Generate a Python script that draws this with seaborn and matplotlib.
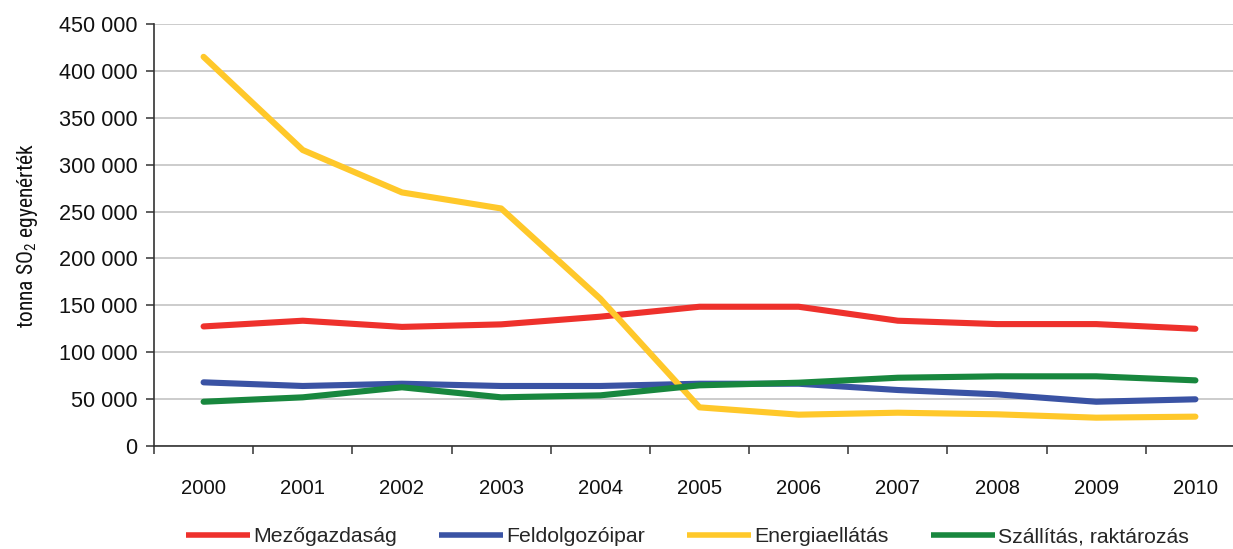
import matplotlib
matplotlib.use("Agg")
import matplotlib.pyplot as plt
import seaborn as sns
import pandas as pd
from matplotlib.ticker import FixedLocator, FuncFormatter
from matplotlib.lines import Line2D
from matplotlib import font_manager

years = [2000, 2001, 2002, 2003, 2004, 2005, 2006, 2007, 2008, 2009, 2010]
mezogazdasag = [127500, 133600, 127000, 129700, 137900, 148500, 148500, 133600, 130000, 130000, 125000]
feldolgozoipar = [67900, 64000, 66400, 64000, 64000, 66400, 66400, 59700, 55100, 47200, 49800]
energiaellatas = [415000, 315600, 270400, 253300, 157000, 41200, 33400, 35500, 33800, 30200, 31300]
szallitas = [47200, 51900, 62600, 51900, 54000, 64700, 67500, 72800, 74300, 74300, 70000]

series_names = ["Mezőgazdaság", "Feldolgozóipar", "Energiaellátás", "Szállítás, raktározás"]
series_values = [mezogazdasag, feldolgozoipar, energiaellatas, szallitas]
colors = ["#EE312C", "#3A53A4", "#FFC82A", "#18873E"]
y_ticks = [0, 50000, 100000, 150000, 200000, 250000, 300000, 350000, 400000, 450000]

rows = []
for name, vals in zip(series_names, series_values):
    for y, v in zip(years, vals):
        rows.append({"Év": y, "Érték": v, "Ágazat": name})
df = pd.DataFrame(rows)

sns.set_theme(style="white")
plt.rcParams["font.family"] = ["Liberation Sans", "DejaVu Sans"]

avail = {f.name for f in font_manager.fontManager.ttflist}
narrow_font = "Liberation Sans"
for cand in ["Liberation Sans Narrow", "Arial Narrow", "Roboto Condensed", "Open Sans Condensed"]:
    if cand in avail:
        narrow_font = cand
        break
plt.rcParams["mathtext.fontset"] = "custom"
plt.rcParams["mathtext.rm"] = narrow_font
plt.rcParams["mathtext.it"] = narrow_font

fig = plt.figure(figsize=(12.33, 5.49), dpi=100)
ax = fig.add_axes([154 / 1233, 1 - 446 / 549, (1245 - 154) / 1233, (446 - 24) / 549])

sns.lineplot(data=df, x="Év", y="Érték", hue="Ágazat", hue_order=series_names,
             palette=colors, linewidth=4.4, ax=ax, legend=False, sort=False)

ax.set_xlim(years[0] - 0.5, years[-1] + 0.5)
ax.set_ylim(0, 450000)
ax.set_yticks(y_ticks)
ax.yaxis.set_major_formatter(FuncFormatter(lambda v, p: f"{int(v):,}".replace(",", " ")))
ax.set_xticks(years)
ax.set_xticklabels([str(y) for y in years])
ax.xaxis.set_minor_locator(FixedLocator([y - 0.5 for y in years] + [years[-1] + 0.5]))

ax.grid(axis="y", color="#BEBEBE", linewidth=1.1)
ax.set_axisbelow(True)
for s in ["top", "right"]:
    ax.spines[s].set_visible(False)
for s in ["left", "bottom"]:
    ax.spines[s].set_color("#333333")
    ax.spines[s].set_linewidth(1.2)

ax.tick_params(axis="y", which="major", left=True, length=6, width=1.1, color="#333333",
               labelsize=15.6, pad=6, labelcolor="#111111")
ax.tick_params(axis="x", which="major", bottom=False, length=0, labelsize=14.6, pad=24,
               labelcolor="#111111")
ax.tick_params(axis="x", which="minor", bottom=True, length=6, width=1.1, color="#333333")

ax.set_xlabel("")
ax.set_ylabel(r"tonna SO$_2$ egyenérték", fontsize=15.5, color="#111111",
              family=[narrow_font, "Liberation Sans", "DejaVu Sans"])
ax.yaxis.set_label_coords(-(154 - 40) / (1245 - 154), 0.5)

handles = [Line2D([0], [0], color=c, linewidth=4.0, solid_capstyle="butt") for c in colors]
fig.legend(handles, series_names, loc="center", bbox_to_anchor=(0.5575, 1 - 537 / 549),
           ncol=4, frameon=False, fontsize=15.3, handlelength=3.0, handletextpad=0.15,
           columnspacing=2.0, borderaxespad=0, borderpad=0)

fig.savefig("out.png", dpi=100)
